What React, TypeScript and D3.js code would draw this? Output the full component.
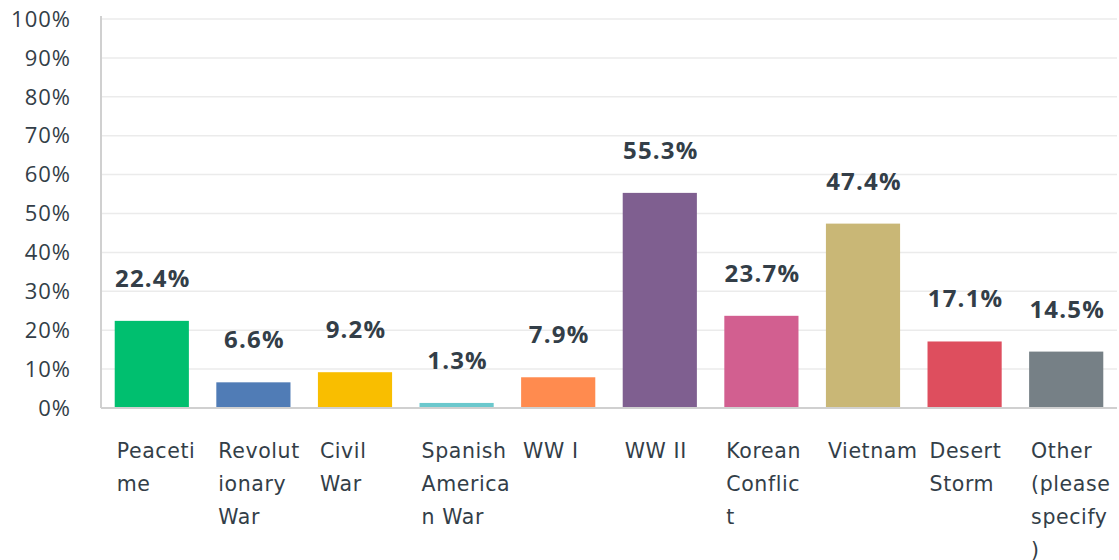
import { useEffect, useRef } from "react";
import * as d3 from "d3";

const categories = [
  "Peacetime",
  "Revolutionary War",
  "Civil War",
  "Spanish American War",
  "WW I",
  "WW II",
  "Korean Conflict",
  "Vietnam",
  "Desert Storm",
  "Other (please specify)",
];

const labelLines = [
  ["Peaceti", "me"],
  ["Revolut", "ionary", "War"],
  ["Civil", "War"],
  ["Spanish", "America", "n War"],
  ["WW I"],
  ["WW II"],
  ["Korean", "Conflic", "t"],
  ["Vietnam"],
  ["Desert", "Storm"],
  ["Other", "(please", "specify", ")"],
];

const values = [22.4, 6.6, 9.2, 1.3, 7.9, 55.3, 23.7, 47.4, 17.1, 14.5];

const colors = [
  "#00bf6f",
  "#507cb6",
  "#f9be00",
  "#6bc8cd",
  "#ff8b4f",
  "#7f5f90",
  "#d25f90",
  "#c9b776",
  "#de4e5e",
  "#768086",
];

const yTicks = [0, 10, 20, 30, 40, 50, 60, 70, 80, 90, 100];

export default function App() {
  const svgRef = useRef<SVGSVGElement>(null);
  const width = 1119;
  const height = 560;

  useEffect(() => {
    const svg = svgRef.current;
    if (!svg) return;
    const root = d3.select(svg);
    root.selectAll("*").remove();

    const font = "'Open Sans', Roboto, sans-serif";
    const labelFont = "'DejaVu Sans', 'Open Sans', sans-serif";
    const left = 101;
    const right = 1117;
    const y = d3.scaleLinear().domain([0, 100]).range([408, 19]);
    const x = d3
      .scaleBand<string>()
      .domain(categories)
      .range([left, right])
      .paddingInner(0.27)
      .paddingOuter(0.135);

    // grid
    root
      .append("g")
      .selectAll("line")
      .data(yTicks.filter((t) => t > 0))
      .join("line")
      .attr("x1", left)
      .attr("x2", right)
      .attr("y1", (d) => y(d))
      .attr("y2", (d) => y(d))
      .attr("stroke", "#ebebeb")
      .attr("stroke-width", 1.5);

    // tick labels
    root
      .append("g")
      .selectAll("text")
      .data(yTicks)
      .join("text")
      .attr("x", 71)
      .attr("y", (d) => y(d))
      .attr("dy", "0.35em")
      .attr("text-anchor", "end")
      .attr("font-family", font)
      .attr("font-size", 22)
      .attr("letter-spacing", 1)
      .attr("fill", "#333e48")
      .text((d) => `${d}%`);

    // bars
    root
      .append("g")
      .selectAll("rect")
      .data(values)
      .join("rect")
      .attr("x", (_, i) => x(categories[i])!)
      .attr("width", x.bandwidth())
      .attr("y", (d) => y(d))
      .attr("height", (d) => y(0) - y(d))
      .attr("fill", (_, i) => colors[i]);

    // axis lines
    root
      .append("line")
      .attr("x1", left)
      .attr("x2", left)
      .attr("y1", 16)
      .attr("y2", 408)
      .attr("stroke", "#d0d0d0")
      .attr("stroke-width", 2);
    root
      .append("line")
      .attr("x1", left)
      .attr("x2", right)
      .attr("y1", 408)
      .attr("y2", 408)
      .attr("stroke", "#d0d0d0")
      .attr("stroke-width", 2);

    // value labels
    root
      .append("g")
      .selectAll("text")
      .data(values)
      .join("text")
      .attr("x", (_, i) => x(categories[i])! + x.bandwidth() / 2 + 1)
      .attr("y", (d) => y(d) - 34)
      .attr("text-anchor", "middle")
      .attr("font-family", font)
      .attr("font-weight", "bold")
      .attr("font-size", 24)
      .attr("letter-spacing", 1.2)
      .attr("fill", "#333e48")
      .text((d) => `${d}%`);

    // category labels
    const cat = root
      .append("g")
      .selectAll("text")
      .data(labelLines)
      .join("text")
      .attr("x", (_, i) => x(categories[i])! + 2)
      .attr("y", 458)
      .attr("font-family", labelFont)
      .attr("font-size", 20.5)
      .attr("letter-spacing", 0.6)
      .attr("fill", "#333e48");
    cat
      .selectAll("tspan")
      .data((d) => d)
      .join("tspan")
      .attr("x", function () {
        return (this.parentNode as SVGTextElement).getAttribute("x");
      })
      .attr("dy", (_, j) => (j === 0 ? 0 : 33))
      .text((d) => d);
  }, []);

  return (
    <svg
      ref={svgRef}
      width={width}
      height={height}
      style={{ position: "absolute", left: 0, top: 0, background: "#fff" }}
    />
  );
}
